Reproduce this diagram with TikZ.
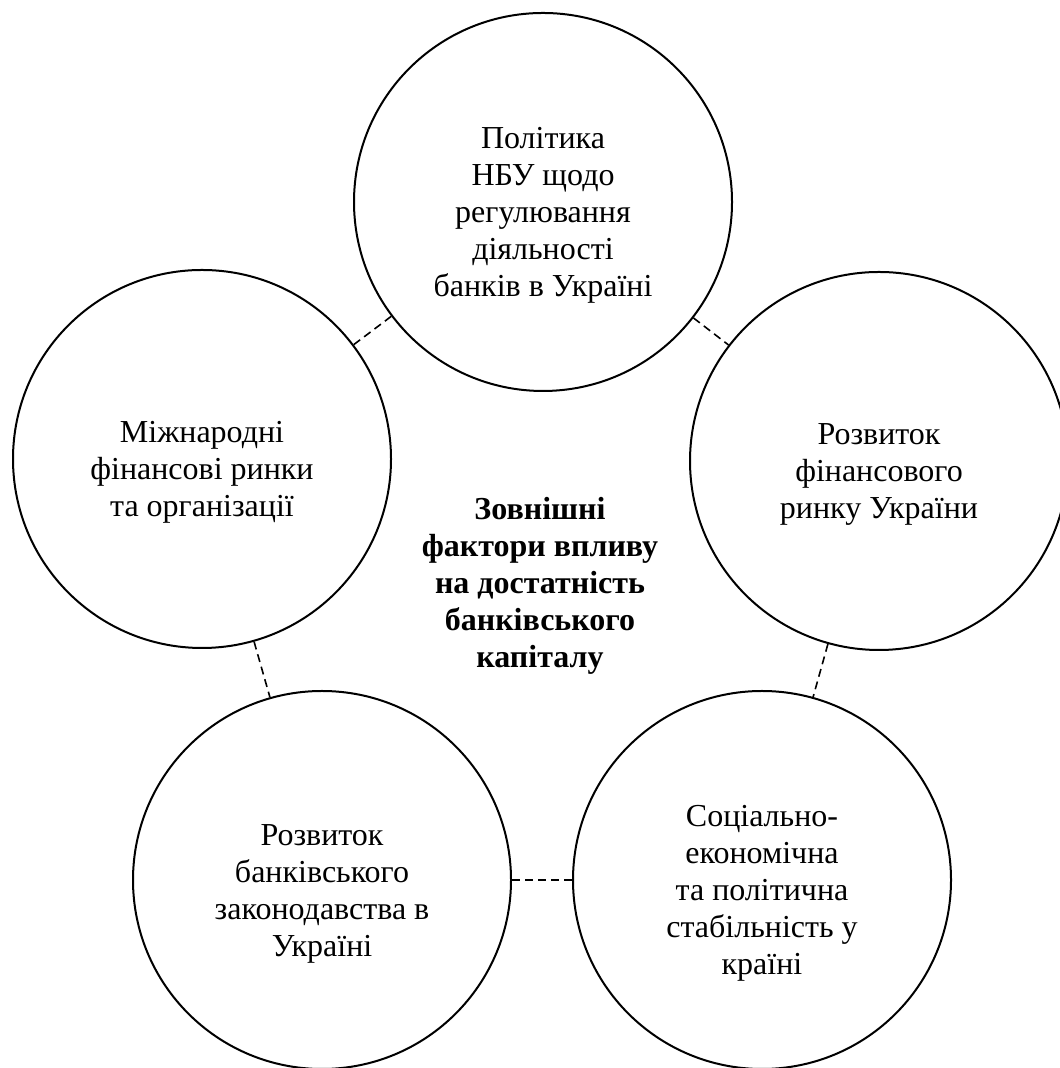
\documentclass[tikz,border=0pt]{standalone}
\usepackage{fontspec}
\setmainfont{Liberation Serif}
\usepackage{tikz}
\newcommand{\firstrow}[1]{\rule{0pt}{#1}}
\tikzstyle{factor} = [draw, circle, line width=1pt, minimum size=189pt, inner sep=2pt, align=center, font=\fontsize{16}{18.5}\selectfont]
\tikzstyle{heading} = [align=center, font=\bfseries\fontsize{16}{18.5}\selectfont]
\tikzstyle{link} = [draw, line width=0.8pt, dash pattern=on 4pt off 2.5pt]
\begin{document}
\begin{tikzpicture}
\useasboundingbox (0,0) rectangle (529.5pt,534pt);

\node [factor] (nbu) at (271.5pt,433pt) {\firstrow{24pt}Політика\\НБУ щодо\\регулювання\\діяльності\\банків в Україні};
\node [factor, below of = nbu, node distance = 128.5pt, xshift = -170.5pt] (intl) {\firstrow{24pt}Міжнародні\\фінансові ринки\\та організації};
\node [factor, below of = nbu, node distance = 129.5pt, xshift = 168pt] (market) {\firstrow{24pt}Розвиток\\фінансового\\ринку України};
\node [factor, below of = nbu, node distance = 339pt, xshift = -110.5pt] (law) {\firstrow{24pt}Розвиток\\банківського\\законодавства в\\Україні};
\node [factor, right of = law, node distance = 220pt] (stab) {\firstrow{24pt}Соціально-\\економічна\\та політична\\стабільність у\\країні};

\node [heading, below of = nbu, node distance = 188pt, xshift = -1.5pt] (title) {\firstrow{19pt}Зовнішні\\фактори впливу\\на достатність\\банківського\\капіталу};

\path [link] (nbu) to (intl);
\path [link] (nbu) to (market);
\path [link] (intl) to (law);
\path [link] (market) to (stab);
\path [link] (law) to (stab);
\end{tikzpicture}
\end{document}
